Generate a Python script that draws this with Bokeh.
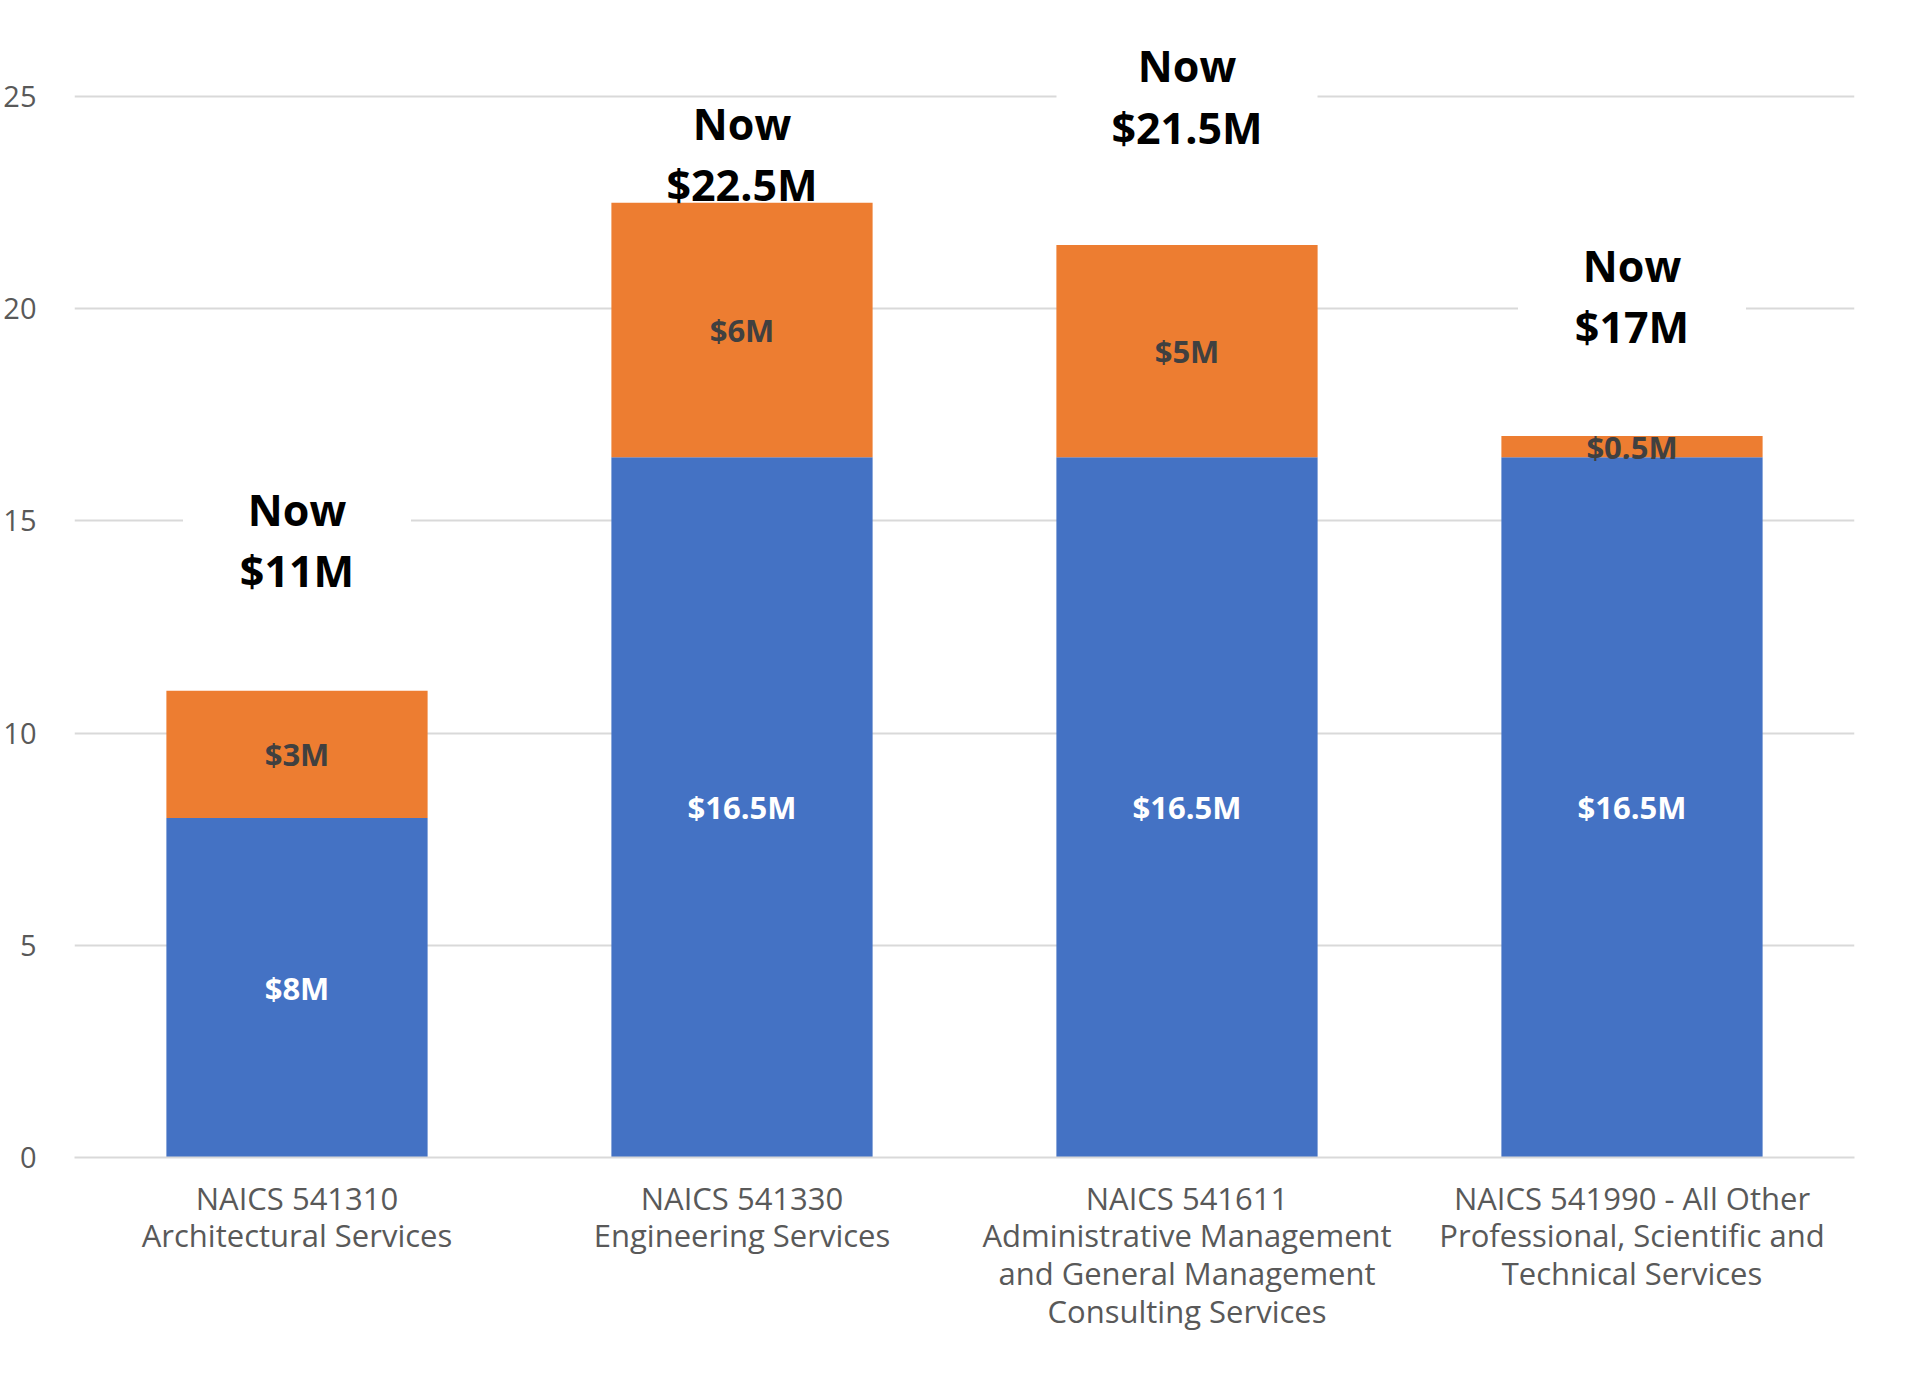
from bokeh.plotting import figure
from bokeh.models import FactorRange, Range1d, ColumnDataSource, FixedTicker
from bokeh.core.properties import value
from bokeh.embed import file_html
from bokeh.resources import INLINE

# ---- data ----
categories = [
    "NAICS 541310\nArchitectural Services",
    "NAICS 541330\nEngineering Services",
    "NAICS 541611\nAdministrative Management\nand General Management\nConsulting Services",
    "NAICS 541990 - All Other\nProfessional, Scientific and\nTechnical Services",
]
base_values = [8, 16.5, 16.5, 16.5]
added_values = [3, 6, 5, 0.5]
note_y = [14.55, 23.65, 25.0, 20.3]   # centre of the "Now $xxM" call-outs
y_ticks = [0, 5, 10, 15, 20, 25]

totals = [b + a for b, a in zip(base_values, added_values)]

def money(v):
    return f"${v:g}M"

src = ColumnDataSource(dict(
    cat=categories,
    base=base_values,
    added=added_values,
    total=totals,
    zero=[0] * len(categories),
    base_mid=[b / 2 for b in base_values],
    added_mid=[b + a / 2 for b, a in zip(base_values, added_values)],
    base_lbl=[money(v) for v in base_values],
    added_lbl=[money(v) for v in added_values],
    note=[f"Now\n{money(t)}" for t in totals],
    note_y=note_y,
    box_w=[140 + 22 * (len(money(t)) - 0.5 * money(t).count(".")) for t in totals],
))

BLUE = "#4472C4"
ORANGE = "#ED7D31"
FONT = "Open Sans"

p = figure(
    width=1880, height=1370,
    x_range=FactorRange(factors=categories, range_padding=0),
    y_range=Range1d(0, 26.84),
    output_backend="svg", toolbar_location=None,
    min_border_left=67, min_border_right=26, min_border_top=18, min_border_bottom=213,
)
p.outline_line_color = None
p.background_fill_color = "white"
p.border_fill_color = "white"

# white boxes behind the call-outs (hide gridlines)
p.rect(x="cat", y="note_y", width="box_w", height=104, width_units="screen",
       height_units="screen", fill_color="white", line_color=None, source=src)

# stacked bars
p.vbar(x="cat", bottom="zero", top="base", width=0.587, fill_color=BLUE,
       line_color=None, source=src)
p.vbar(x="cat", bottom="base", top="total", width=0.587, fill_color=ORANGE,
       line_color=None, source=src)

# segment labels
p.text(x="cat", y="base_mid", text="base_lbl", text_align="center",
       text_baseline="middle", text_color="white", text_font=value(FONT),
       text_font_style="bold", text_font_size="31px", source=src)
p.text(x="cat", y="added_mid", text="added_lbl", text_align="center",
       text_baseline="middle", text_color="#404040", text_font=value(FONT),
       text_font_style="bold", text_font_size="31px", source=src)

# call-outs
p.text(x="cat", y="note_y", text="note", text_align="center",
       text_baseline="middle", text_color="black", text_font=value(FONT),
       text_font_style="bold", text_font_size="43px", text_line_height=1.04,
       source=src)

# axes
p.yaxis.ticker = FixedTicker(ticks=y_ticks)
p.yaxis.axis_line_color = None
p.yaxis.major_tick_line_color = None
p.yaxis.minor_tick_line_color = None
p.yaxis.major_label_standoff = 32
p.yaxis.major_label_text_font = FONT
p.yaxis.major_label_text_font_size = "29px"
p.yaxis.major_label_text_color = "#595959"

p.xaxis.axis_line_color = "#d9d9d9"
p.xaxis.axis_line_width = 2
p.xaxis.major_tick_line_color = None
p.xaxis.major_label_standoff = 13
p.xaxis.major_label_text_font = FONT
p.xaxis.major_label_text_font_size = "31px"
p.xaxis.major_label_text_color = "#595959"
p.xaxis.major_label_text_line_height = 0.9

p.xgrid.grid_line_color = None
p.ygrid.grid_line_color = "#d9d9d9"
p.ygrid.grid_line_width = 2

open("out.html", "w").write(file_html(p, INLINE))
